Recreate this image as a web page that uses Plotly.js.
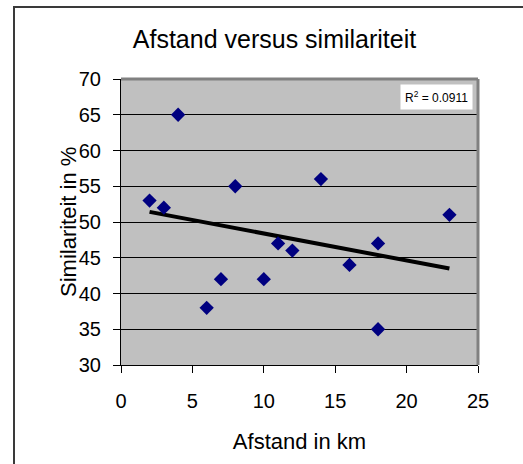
<!DOCTYPE html>
<html>
<head>
<meta charset="utf-8">
<script src="https://cdn.plot.ly/plotly-3.0.1.min.js"></script>
<style>
  html, body { margin: 0; padding: 0; background: #fff; overflow: hidden; }
  #wrap { position: relative; width: 523px; height: 464px; }
  #chart { width: 523px; height: 464px; }
  #frame { position: absolute; left: 13px; top: 6px; width: 600px; height: 600px;
           border: 2px solid #3a3a3a; pointer-events: none; }
</style>
</head>
<body>
<div id="wrap">
  <div id="chart"></div>
  <div id="frame"></div>
</div>
<script>
// Data
const afstandKm = [2, 3, 4, 6, 7, 8, 10, 11, 12, 14, 16, 18, 18, 23];
const similariteit = [53, 52, 65, 38, 42, 55, 42, 47, 46, 56, 44, 47, 35, 51];
const xTicks = [0, 5, 10, 15, 20, 25];
const yTicks = [30, 35, 40, 45, 50, 55, 60, 65, 70];
const rSquaredLabel = "R<sup>2</sup> = 0.0911";

// Linear trendline (least squares) from the data
const n = afstandKm.length;
const mx = afstandKm.reduce((a, b) => a + b, 0) / n;
const my = similariteit.reduce((a, b) => a + b, 0) / n;
let sxy = 0, sxx = 0;
for (let i = 0; i < n; i++) {
  sxy += (afstandKm[i] - mx) * (similariteit[i] - my);
  sxx += (afstandKm[i] - mx) * (afstandKm[i] - mx);
}
const slope = sxy / sxx;
const intercept = my - slope * mx;
const xMin = Math.min(...afstandKm), xMax = Math.max(...afstandKm);
const trendX = [xMin, xMax];
const trendY = trendX.map(x => intercept + slope * x);

const FONT = "Liberation Sans, Arial, sans-serif";

const traces = [
  {
    x: trendX, y: trendY, type: "scatter", mode: "lines",
    line: { color: "#000000", width: 4 }, hoverinfo: "skip", showlegend: false
  },
  {
    x: afstandKm, y: similariteit, type: "scatter", mode: "markers",
    marker: { symbol: "diamond", size: 11, color: "#000080", line: { width: 0 } },
    showlegend: false
  }
];

const layout = {
  width: 523, height: 464,
  margin: { l: 121, r: 45, t: 79, b: 99, pad: 0 },
  paper_bgcolor: "#ffffff",
  plot_bgcolor: "#c0c0c0",
  font: { family: FONT, color: "#000000", size: 20 },
  title: {
    text: "Afstand versus similariteit",
    font: { family: FONT, size: 25, color: "#000000" },
    xref: "paper", x: 0.43, xanchor: "center",
    yref: "container", y: 1 - 39 / 464, yanchor: "middle"
  },
  xaxis: {
    range: [0, 25], tickvals: xTicks, ticktext: xTicks.map(String),
    showgrid: false, zeroline: false,
    showline: true, linecolor: "#000000", linewidth: 1,
    ticks: "outside", ticklen: 7, tickcolor: "#000000", tickwidth: 1,
    ticklabelstandoff: 11,
    tickfont: { family: FONT, size: 20, color: "#000000" },
    title: { text: "Afstand in km", font: { family: FONT, size: 22, color: "#000000" }, standoff: 22 },
    fixedrange: true
  },
  yaxis: {
    range: [30, 70], tickvals: yTicks, ticktext: yTicks.map(String),
    showgrid: true, gridcolor: "#000000", gridwidth: 1, zeroline: false,
    showline: true, linecolor: "#000000", linewidth: 1,
    ticks: "outside", ticklen: 7, tickcolor: "#000000", tickwidth: 1,
    ticklabelstandoff: 8,
    tickfont: { family: FONT, size: 20, color: "#000000" },
    fixedrange: true
  },
  shapes: [
    { type: "line", xref: "paper", yref: "paper", x0: 0, x1: 1, y0: 1, y1: 1,
      line: { color: "#808080", width: 3 }, layer: "above" },
    { type: "line", xref: "paper", yref: "paper", x0: 1, x1: 1, y0: 0, y1: 1,
      line: { color: "#808080", width: 3 }, layer: "above" }
  ],
  annotations: [
    {
      text: "Similariteit in %", xref: "paper", yref: "paper",
      x: (68 - 121) / 357, y: 0.5, xanchor: "center", yanchor: "middle",
      textangle: -90, showarrow: false,
      font: { family: FONT, size: 22, color: "#000000" }
    },
    {
      text: rSquaredLabel, xref: "paper", yref: "paper",
      x: 0.986, y: 0.982, xanchor: "right", yanchor: "top",
      showarrow: false, bgcolor: "#ffffff", borderpad: 4,
      font: { family: FONT, size: 12, color: "#000000" }
    }
  ],
  showlegend: false
};

Plotly.newPlot("chart", traces, layout, { displayModeBar: false, staticPlot: true });
</script>
</body>
</html>
